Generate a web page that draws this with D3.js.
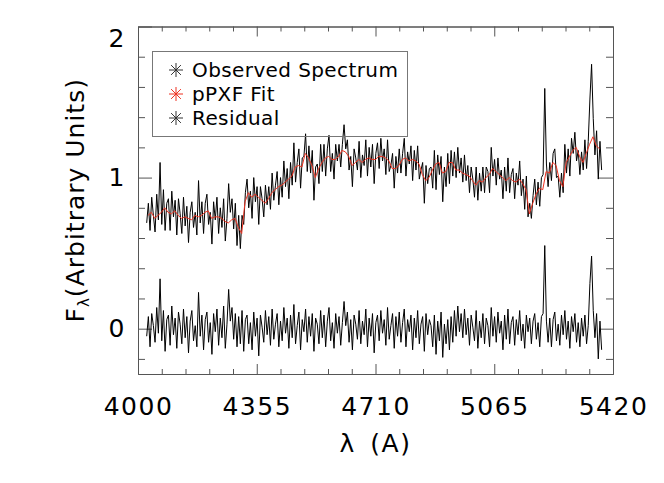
<!DOCTYPE html>
<html>
<head>
<meta charset="utf-8">
<script src="https://d3js.org/d3.v7.min.js"></script>
<style>
    body { margin: 0; background: #fff; }
    svg text { font-family: "DejaVu Sans", sans-serif; fill: #000; }
</style>
</head>
<body>
<svg id="drawing_region"></svg>
<script>
// spectrum grid (Angstrom): observed + residual sampled every 5 A
const specStart = 4026;
const specStep = 5;

const observedFlux = [
    0.70,0.83,0.65,0.87,0.75,0.64,0.89,0.72,1.10,0.69,
    0.92,0.65,0.83,0.86,0.65,0.91,0.74,0.85,0.62,0.86,
    0.76,0.63,0.87,0.68,0.81,0.57,0.77,0.84,0.67,0.77,
    0.62,0.98,0.70,0.84,0.63,0.83,0.89,0.69,0.77,0.56,
    0.84,0.72,0.87,0.63,0.80,0.67,0.86,0.58,0.73,0.96,
    0.77,0.86,0.66,0.83,0.55,0.75,0.53,0.75,0.69,0.90,
    0.99,0.80,0.91,0.73,1.00,0.84,0.94,0.69,0.94,0.86,
    0.74,0.95,0.82,0.94,0.79,1.03,0.85,0.95,1.04,0.82,
    1.00,0.87,1.11,0.94,1.06,0.86,1.10,0.95,1.23,0.97,
    1.10,1.19,0.93,1.13,1.14,1.29,1.04,1.21,1.03,1.18,
    0.85,1.07,1.09,0.96,1.22,1.04,1.22,1.01,1.19,1.28,
    1.04,1.16,0.99,1.22,1.11,1.22,1.07,1.22,1.35,1.19,
    1.25,1.05,1.14,0.94,1.19,1.13,1.05,1.24,1.00,1.15,
    1.08,1.25,1.01,1.20,1.07,1.22,0.96,1.16,1.23,1.06,
    1.26,1.11,1.19,1.02,1.25,1.04,1.08,1.16,0.93,1.14,
    1.03,1.19,1.03,1.16,1.26,1.01,1.17,1.09,1.21,0.98,
    1.18,1.05,1.21,0.99,1.05,1.10,0.83,1.08,0.96,1.06,
    1.07,0.93,1.18,0.92,1.15,1.02,1.14,0.84,1.07,0.94,
    1.16,0.96,1.18,1.01,1.17,1.00,1.20,1.03,1.13,0.97,
    1.15,0.98,1.08,0.90,1.07,0.99,0.87,1.07,0.85,1.03,
    0.91,1.07,0.90,1.07,1.04,0.90,1.20,1.01,1.12,0.95,
    1.13,0.99,1.05,0.86,1.07,0.91,1.13,0.90,1.02,1.06,
    0.86,1.03,0.95,1.11,0.88,0.99,0.79,1.01,0.74,0.83,
    0.73,0.88,0.99,0.82,0.97,0.81,1.00,1.02,1.59,1.09,
    0.94,1.10,0.98,1.16,1.19,1.00,1.01,0.87,1.03,0.90,
    1.22,1.03,1.19,1.01,1.26,1.16,1.30,1.11,1.18,1.02,
    1.17,1.05,1.25,1.06,1.24,1.52,1.75,1.39,1.15,1.31,
    0.99,1.24,1.05
];

const residualFlux = [
    -0.05,0.08,-0.12,0.10,0.02,-0.09,0.14,-0.03,0.33,-0.08,
    0.12,-0.15,0.06,0.09,-0.11,0.15,-0.04,0.07,-0.13,0.11,
    0.03,-0.10,0.13,-0.06,0.08,-0.16,0.05,0.12,-0.08,0.02,
    -0.12,0.24,-0.05,0.09,-0.14,0.06,0.11,-0.09,0.04,-0.17,
    0.10,-0.02,0.13,-0.11,0.07,-0.06,0.15,-0.13,0.03,0.26,
    0.05,0.14,-0.07,0.10,-0.12,0.08,-0.10,0.12,-0.15,0.06,
    0.09,-0.10,0.04,-0.14,0.11,-0.05,0.07,-0.18,0.09,0.01,
    -0.09,0.12,-0.04,0.08,-0.11,0.13,-0.07,0.03,0.10,-0.12,
    0.05,-0.08,0.14,-0.03,0.07,-0.13,0.09,-0.06,0.16,-0.10,
    0.02,0.11,-0.14,0.06,-0.02,0.13,-0.09,0.08,-0.05,0.10,
    -0.15,0.07,0.03,-0.10,0.12,-0.06,0.09,-0.12,0.05,0.14,
    -0.08,0.04,-0.13,0.10,-0.03,0.08,-0.11,0.04,0.18,0.02,
    0.11,-0.09,0.06,-0.14,0.09,0.03,-0.07,0.12,-0.10,0.05,
    -0.04,0.13,-0.12,0.07,-0.05,0.10,-0.16,0.04,0.09,-0.08,
    0.12,-0.03,0.06,-0.11,0.14,-0.07,0.02,0.10,-0.13,0.08,
    -0.05,0.11,-0.09,0.04,0.13,-0.12,0.06,-0.02,0.09,-0.14,
    0.07,-0.06,0.12,-0.10,0.03,0.08,-0.15,0.10,-0.04,0.06,
    0.02,-0.12,0.09,-0.17,0.05,-0.08,0.11,-0.19,0.03,-0.10,
    0.06,-0.14,0.08,-0.09,0.12,-0.05,0.15,-0.02,0.10,-0.06,
    0.13,-0.04,0.07,-0.11,0.09,0.01,-0.08,0.12,-0.13,0.05,
    -0.06,0.10,-0.10,0.07,0.02,-0.12,0.14,-0.05,0.08,-0.09,
    0.11,-0.03,0.05,-0.14,0.09,-0.07,0.13,-0.10,0.04,0.08,
    -0.11,0.06,-0.04,0.12,-0.08,0.03,-0.13,0.09,-0.02,0.07,
    -0.10,0.05,0.10,-0.07,0.04,-0.12,0.08,0.10,0.55,0.05,
    -0.09,0.07,-0.12,0.06,0.11,-0.08,0.03,-0.11,0.09,-0.04,
    0.12,-0.07,0.05,-0.13,0.08,-0.02,0.10,-0.09,0.04,-0.12,
    0.07,-0.05,0.09,-0.10,0.02,0.30,0.48,0.12,-0.06,0.10,
    -0.20,0.05,-0.14
];

// pPXF fit, every 10 A
const fitStart = 4030;
const fitStep = 10;
const fitFlux = [
    0.75,0.77,0.73,0.75,0.77,0.80,0.77,0.76,0.78,0.75,
    0.73,0.74,0.73,0.72,0.75,0.74,0.75,0.77,0.78,0.73,
    0.74,0.74,0.73,0.71,0.70,0.72,0.73,0.67,0.63,0.84,
    0.90,0.87,0.89,0.87,0.85,0.83,0.86,0.90,0.92,0.94,
    0.95,0.97,0.99,1.01,1.07,1.08,1.07,1.16,1.13,1.08,
    1.00,1.06,1.10,1.13,1.14,1.12,1.12,1.14,1.18,1.17,
    1.14,1.08,1.10,1.12,1.10,1.12,1.13,1.12,1.12,1.14,
    1.14,1.13,1.11,1.06,1.06,1.08,1.12,1.13,1.11,1.12,
    1.11,1.09,1.02,0.98,1.00,1.05,1.09,1.10,1.03,1.04,
    1.10,1.10,1.05,1.05,1.03,1.02,1.01,0.98,0.95,0.98,
    0.97,1.00,1.02,1.06,1.04,1.02,1.00,0.98,1.00,0.98,
    0.97,0.99,0.96,0.92,0.76,0.83,0.89,0.93,0.92,1.04,
    1.03,1.10,1.08,0.98,0.94,1.10,1.14,1.18,1.20,1.14,
    1.10,1.16,1.22,1.27,1.21,1.19
];

const xTickValues = [4000, 4355, 4710, 5065, 5420];
const yTickValues = [0, 1, 2];
const legendLabels = ['Observed Spectrum', 'pPXF Fit', 'Residual'];
const legendColors = ['#333', '#ee3322', '#333'];

const observed = observedFlux.map((v, i) => ({ wave: specStart + i * specStep, flux: v }));
const residual = residualFlux.map((v, i) => ({ wave: specStart + i * specStep, flux: v }));
const fit = fitFlux.map((v, i) => ({ wave: fitStart + i * fitStep, flux: v }));

class SpectrumChart {

    constructor( config ) {
        this.config = {
            parent: config.parent,
            width: config.width || 664,
            height: config.height || 483,
            margin: config.margin || {top:26.5, right:51, bottom:109, left:138}
        }
        this.init();
    }

    init() {
        let self = this;

        self.svg = d3.select( self.config.parent )
            .attr('width', self.config.width)
            .attr('height', self.config.height);

        self.chart = self.svg.append('g')
            .attr('transform', `translate(${self.config.margin.left}, ${self.config.margin.top})`);

        self.inner_width = self.config.width - self.config.margin.left - self.config.margin.right;
        self.inner_height = self.config.height - self.config.margin.top - self.config.margin.bottom;

        self.xscale = d3.scaleLinear()
            .domain([4000, 5420])
            .range([0, self.inner_width]);

        self.yscale = d3.scaleLinear()
            .domain([-0.3, 2])
            .range([self.inner_height, 0]);

        self.line = d3.line()
            .x( d => self.xscale(d.wave) )
            .y( d => self.yscale(d.flux) );
    }

    update() {
        let self = this;
        self.render();
    }

    drawAxes() {
        let self = this;
        const axisColor = '#555';
        const xMinor = d3.range(4000, 5420, 71).filter( v => !xTickValues.includes(v) );
        const yMinor = d3.range(-2, 20, 2).map( v => v / 10 ).filter( v => v % 1 !== 0 );

        // bottom
        self.chart.append('g')
            .attr('transform', `translate(0, ${self.inner_height})`)
            .call( d3.axisBottom(self.xscale).tickValues(xMinor).tickSizeInner(-5).tickSizeOuter(0).tickFormat('') );
        self.chart.append('g')
            .attr('class', 'xlabels')
            .attr('transform', `translate(0, ${self.inner_height})`)
            .call( d3.axisBottom(self.xscale).tickValues(xTickValues).tickSizeInner(-10).tickSizeOuter(0)
                .tickPadding(23).tickFormat(d3.format('d')) );
        // top
        self.chart.append('g')
            .call( d3.axisTop(self.xscale).tickValues(xMinor).tickSizeInner(-5).tickSizeOuter(0).tickFormat('') );
        self.chart.append('g')
            .call( d3.axisTop(self.xscale).tickValues(xTickValues).tickSizeInner(-10).tickSizeOuter(0).tickFormat('') );
        // left
        self.chart.append('g')
            .call( d3.axisLeft(self.yscale).tickValues(yMinor).tickSizeInner(-7).tickSizeOuter(0).tickFormat('') );
        self.chart.append('g')
            .attr('class', 'ylabels')
            .call( d3.axisLeft(self.yscale).tickValues(yTickValues).tickSizeInner(-14).tickSizeOuter(0)
                .tickPadding(12).tickFormat(d3.format('d')) );
        // right
        self.chart.append('g')
            .attr('transform', `translate(${self.inner_width}, 0)`)
            .call( d3.axisRight(self.yscale).tickValues(yMinor).tickSizeInner(-7).tickSizeOuter(0).tickFormat('') );
        self.chart.append('g')
            .attr('transform', `translate(${self.inner_width}, 0)`)
            .call( d3.axisRight(self.yscale).tickValues(yTickValues).tickSizeInner(-14).tickSizeOuter(0).tickFormat('') );

        self.chart.selectAll('.domain, .tick line')
            .attr('stroke', axisColor);
        self.chart.selectAll('.tick text')
            .style('font-size', '25px')
            .style('letter-spacing', '1.5px')
            .attr('fill', '#000');
        // top label sits just inside the frame
        self.chart.selectAll('.ylabels .tick text')
            .filter( d => d === 2 )
            .attr('dy', '0.71em')
            .attr('y', 2);
    }

    drawLegend() {
        let self = this;
        const legend = self.svg.append('g');
        legend.append('rect')
            .attr('x', 152.5).attr('y', 51.5)
            .attr('width', 255).attr('height', 85)
            .attr('fill', 'none')
            .attr('stroke', '#777');

        const rows = legend.selectAll('.entry')
            .data(legendLabels)
            .enter()
            .append('g')
            .attr('transform', (d, i) => `translate(176, ${70 + i * 24})`);

        const r = 7;
        rows.append('path')
            .attr('d', `M${-r},0H${r}M0,${-r}V${r}M${-r*0.7},${-r*0.7}L${r*0.7},${r*0.7}M${-r*0.7},${r*0.7}L${r*0.7},${-r*0.7}`)
            .attr('stroke', (d, i) => legendColors[i])
            .attr('stroke-width', 1)
            .attr('fill', 'none');

        rows.append('text')
            .attr('x', 16)
            .attr('y', 7)
            .style('font-size', '20px')
            .style('letter-spacing', '0.4px')
            .text( d => d );
    }

    render() {
        let self = this;

        self.drawLegend();
        self.drawAxes();

        self.chart.append('path')
            .datum(observed)
            .attr('d', self.line)
            .attr('fill', 'none')
            .attr('stroke', '#000')
            .attr('stroke-width', 1);

        self.chart.append('path')
            .datum(fit)
            .attr('d', self.line)
            .attr('fill', 'none')
            .attr('stroke', '#ee3322')
            .attr('stroke-width', 1);

        self.chart.append('path')
            .datum(residual)
            .attr('d', self.line)
            .attr('fill', 'none')
            .attr('stroke', '#000')
            .attr('stroke-width', 1);

        // axis titles
        self.svg.append('text')
            .attr('x', self.config.margin.left + self.inner_width / 2)
            .attr('y', 452)
            .attr('text-anchor', 'middle')
            .style('font-size', '25px')
            .style('letter-spacing', '1.5px')
            .style('word-spacing', '5px')
            .text('λ (A)');

        const ytitle = self.svg.append('text')
            .attr('transform', `translate(84, ${self.config.margin.top + self.inner_height / 2}) rotate(-90)`)
            .attr('text-anchor', 'middle')
            .style('font-size', '25px')
            .style('letter-spacing', '1px');
        ytitle.append('tspan').text('F');
        ytitle.append('tspan').attr('dy', 5).style('font-size', '15px').text('λ');
        ytitle.append('tspan').attr('dy', -5).text('(Arbitrary Units)');
    }
}

const chart = new SpectrumChart( { parent: '#drawing_region', width: 664, height: 483 } );
chart.update();
</script>
</body>
</html>
